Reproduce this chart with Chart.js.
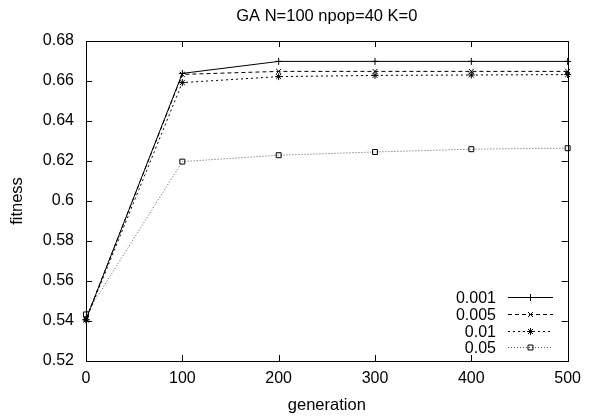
<!DOCTYPE html>
<html>
<head>
<meta charset="utf-8">
<script src="https://cdn.jsdelivr.net/npm/chart.js@4/dist/chart.umd.min.js"></script>
<style>
  html, body { margin: 0; padding: 0; background: #fff; }
  #wrap { width: 589px; height: 417px; }
</style>
</head>
<body>
<div id="wrap"><canvas id="chart" width="589" height="417"></canvas></div>
<script>
// --- data ---
const generations = [0, 100, 200, 300, 400, 500];
const seriesLabels = ['0.001', '0.005', '0.01', '0.05'];
const fit001 = [0.5408, 0.6638, 0.6698, 0.6698, 0.6698, 0.6698];
const fit005 = [0.5410, 0.6633, 0.6648, 0.6648, 0.6648, 0.6648];
const fit01  = [0.5405, 0.6592, 0.6622, 0.6628, 0.6630, 0.6632];
const fit05  = [0.5433, 0.6197, 0.6229, 0.6245, 0.6259, 0.6264];
const yTicks = [0.52, 0.54, 0.56, 0.58, 0.6, 0.62, 0.64, 0.66, 0.68];
const xTicks = [0, 100, 200, 300, 400, 500];
const chartTitle = 'GA N=100 npop=40 K=0';

const FONT = 'Liberation Sans, Arial, Helvetica, sans-serif';
const FS = 16;

function toPoints(vals) {
    return vals.map((v, i) => ({ x: generations[i], y: v }));
}

// gnuplot style frame, inward ticks, title and legend
const framePlugin = {
    id: 'frame',
    afterDraw(chart) {
        const ctx = chart.ctx;
        const a = chart.chartArea;
        const xs = chart.scales.x, ys = chart.scales.y;
        ctx.save();
        ctx.strokeStyle = '#000';
        ctx.lineWidth = 1;
        ctx.strokeRect(Math.round(a.left) + 0.5, Math.round(a.top) + 0.5,
                       Math.round(a.right - a.left), Math.round(a.bottom - a.top));
        const tl = 6;
        ctx.beginPath();
        xTicks.forEach(t => {
            const px = Math.round(xs.getPixelForValue(t)) + 0.5;
            ctx.moveTo(px, a.bottom); ctx.lineTo(px, a.bottom - tl);
            ctx.moveTo(px, a.top); ctx.lineTo(px, a.top + tl);
        });
        yTicks.forEach(t => {
            const py = Math.round(ys.getPixelForValue(t)) + 0.5;
            ctx.moveTo(a.left, py); ctx.lineTo(a.left + tl, py);
            ctx.moveTo(a.right, py); ctx.lineTo(a.right - tl, py);
        });
        ctx.stroke();

        // title centred over the plot area
        ctx.fillStyle = '#000';
        ctx.font = '16.5px ' + FONT;
        ctx.textAlign = 'center';
        ctx.textBaseline = 'middle';
        ctx.fillText(chartTitle, (a.left + a.right) / 2, 16.5);

        // legend, bottom right inside the plot
        const rowH = 16.8;
        const baseY = 297;
        const textRight = 496;
        const lineL = 508, lineR = 553;
        ctx.font = FS + 'px ' + FONT;
        ctx.textAlign = 'right';
        chart.data.datasets.forEach((ds, i) => {
            const y = Math.round(baseY + i * rowH) + 0.5;
            ctx.fillStyle = '#000';
            ctx.fillText(ds.label, textRight, y + 1);
            ctx.strokeStyle = ds.borderColor;
            ctx.lineWidth = ds.borderWidth;
            ctx.setLineDash(ds.borderDash || []);
            ctx.beginPath();
            ctx.moveTo(lineL, y); ctx.lineTo(lineR, y);
            ctx.stroke();
            ctx.setLineDash([]);
            ctx.strokeStyle = '#000';
            ctx.fillStyle = 'rgba(0,0,0,0)';
            Chart.helpers.drawPoint(ctx, {
                pointStyle: ds.pointStyle, radius: ds.pointRadius,
                borderWidth: 1, rotation: 0
            }, (lineL + lineR) / 2, y);
        });
        ctx.restore();
    }
};

const baseDs = { fill: false, tension: 0, pointRadius: 3.5, pointHoverRadius: 3.5,
                 pointBackgroundColor: 'rgba(0,0,0,0)', borderWidth: 1, clip: false };

new Chart(document.getElementById('chart'), {
    type: 'line',
    data: {
        datasets: [
            Object.assign({}, baseDs, { label: seriesLabels[0], data: toPoints(fit001),
                borderColor: '#000', pointBorderColor: '#000', pointStyle: 'cross' }),
            Object.assign({}, baseDs, { label: seriesLabels[1], data: toPoints(fit005),
                borderColor: '#000', pointBorderColor: '#000', pointStyle: 'crossRot', borderDash: [4, 3] }),
            Object.assign({}, baseDs, { label: seriesLabels[2], data: toPoints(fit01),
                borderColor: '#000', pointBorderColor: '#000', pointStyle: 'star', borderDash: [2, 3] }),
            Object.assign({}, baseDs, { label: seriesLabels[3], data: toPoints(fit05),
                borderColor: '#555', pointBorderColor: '#000', pointStyle: 'rect', borderDash: [1, 2] })
        ]
    },
    options: {
        responsive: false,
        animation: false,
        layout: { padding: { top: 41, right: 16, bottom: 0, left: 0 } },
        plugins: {
            legend: { display: false },
            tooltip: { enabled: false },
            title: { display: false }
        },
        scales: {
            x: {
                type: 'linear',
                min: 0, max: 500,
                afterBuildTicks: s => { s.ticks = xTicks.map(v => ({ value: v })); },
                ticks: { color: '#000', font: { family: FONT, size: FS }, padding: 8, maxRotation: 0 },
                grid: { display: false, drawTicks: false },
                border: { display: false },
                title: { display: true, text: 'generation', color: '#000',
                         font: { family: FONT, size: 16.5 }, padding: { top: 4, bottom: 2 } },
                afterFit: s => { s.height = 56; }
            },
            y: {
                type: 'linear',
                min: 0.52, max: 0.68,
                afterBuildTicks: s => { s.ticks = yTicks.map(v => ({ value: v })); },
                ticks: { color: '#000', font: { family: FONT, size: FS }, padding: 12,
                         callback: v => String(+v.toFixed(2)) },
                grid: { display: false, drawTicks: false },
                border: { display: false },
                title: { display: true, text: 'fitness', color: '#000',
                         font: { family: FONT, size: 16.5 }, padding: { top: 8, bottom: 6 } },
                afterFit: s => { s.width = 86; }
            }
        }
    },
    plugins: [framePlugin]
});
</script>
</body>
</html>
